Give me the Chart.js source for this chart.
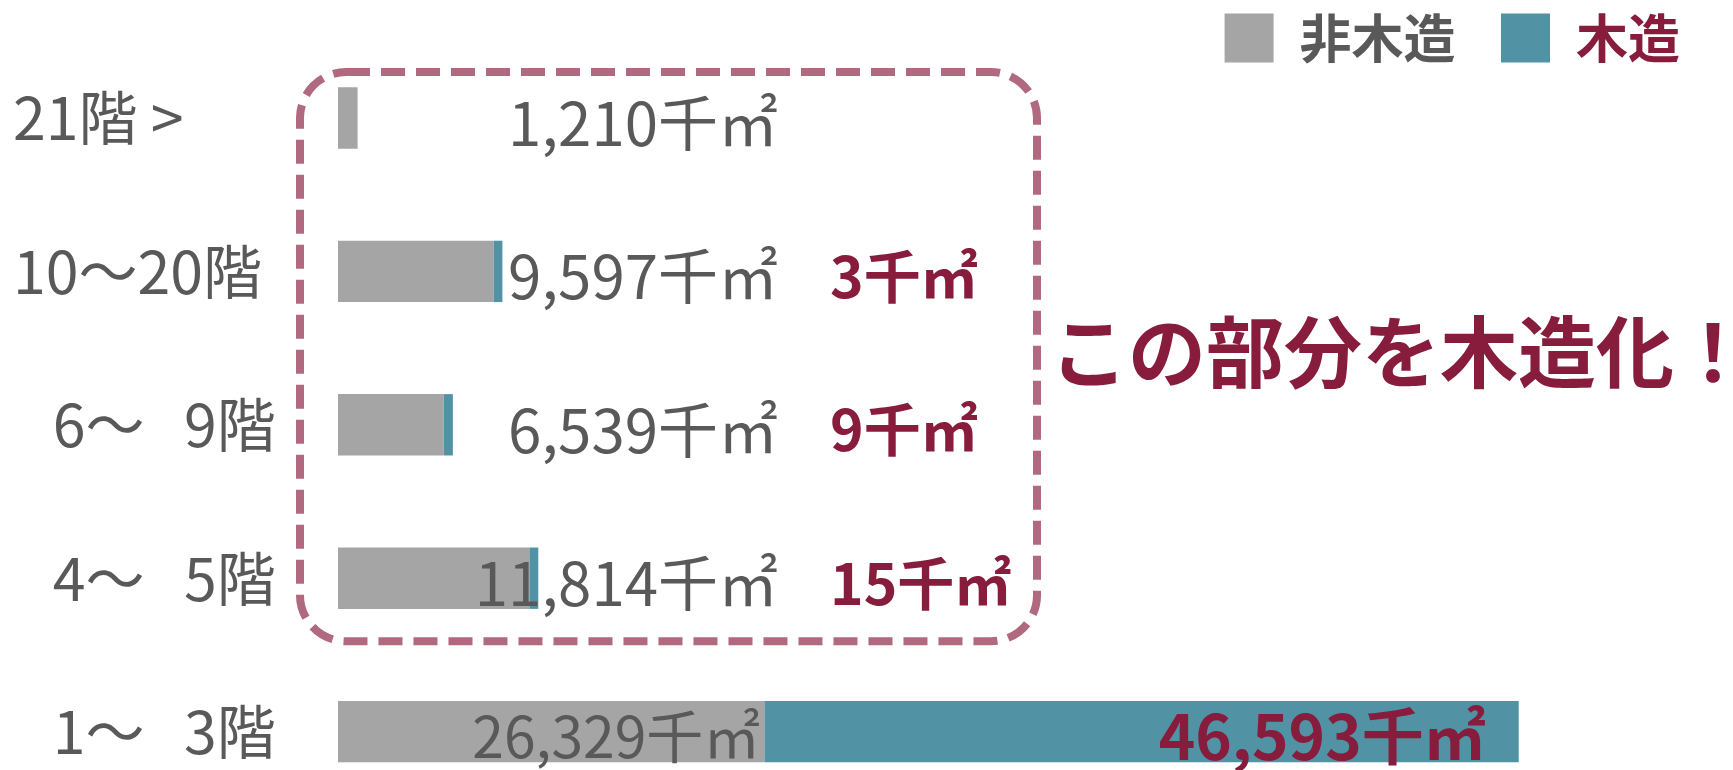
<!DOCTYPE html>
<html lang="ja">
<head>
<meta charset="utf-8">
<title>階数別 床面積</title>
<script src="https://cdn.jsdelivr.net/npm/chart.js@4.4.1/dist/chart.umd.min.js"></script>
<style>
  html, body { margin: 0; padding: 0; background: #fff; }
</style>
</head>
<body>
<canvas id="chart" width="1733" height="770"></canvas>
<script>
// floor bands, top to bottom
const floorLabels = ['21階 >', '10～20階', '   6～   9階', '   4～   5階', '   1～   3階'];
// floor area, thousand m2
const nonWoodArea = [1210, 9597, 6539, 11814, 26329];
const woodArea = [null, 3, 9, 15, 46593];
const seriesNames = ['非木造', '木造'];
const areaMax = 83500;

const FONT = "'Noto Sans CJK JP', 'Noto Sans', sans-serif";
const GREY = '#A5A5A5';
const TEAL = '#5193A5';
const TEXT_GREY = '#595959';
const MAROON = '#871C3D';
const BOX_PINK = '#B0697E';

const fmt = v => v.toLocaleString('en-US') + '千㎡';

// value labels, dashed frame and the callout text
const areaLabels = {
    id: 'areaLabels',
    afterDatasetsDraw(chart) {
        const { ctx, chartArea, scales: { y } } = chart;
        const greyBars = chart.getDatasetMeta(0).data;
        const woodBars = chart.getDatasetMeta(1).data;
        const last = nonWoodArea.length - 1;

        ctx.save();
        ctx.textBaseline = 'middle';
        nonWoodArea.forEach((v, i) => {
            const cy = greyBars[i].y + 5;
            ctx.fillStyle = TEXT_GREY;
            ctx.textAlign = 'right';
            if (i === last) {
                ctx.font = '400 57px ' + FONT;
                ctx.fillText(fmt(v), greyBars[i].x - 4, cy);
            } else {
                ctx.font = '400 60px ' + FONT;
                ctx.fillText(fmt(v), chartArea.left + 440, cy);
            }

            const w = woodArea[i];
            if (w == null) return;
            ctx.fillStyle = MAROON;
            if (i === last) {
                ctx.font = '700 62px ' + FONT;
                ctx.textAlign = 'right';
                ctx.fillText(fmt(w), woodBars[i].x - 33, cy);
            } else {
                ctx.font = '700 57px ' + FONT;
                ctx.textAlign = 'left';
                ctx.fillText(fmt(w), chartArea.left + 492, cy);
            }
        });

        // frame round the upper four bands
        const top = y.getPixelForValue(0) - 46;
        const bottom = y.getPixelForValue(3) + 63;
        const left = chartArea.left - 38;
        const right = chartArea.left + 699;
        ctx.beginPath();
        ctx.roundRect(left, top, right - left, bottom - top, 46);
        ctx.setLineDash([24, 11]);
        ctx.lineWidth = 8;
        ctx.strokeStyle = BOX_PINK;
        ctx.stroke();

        ctx.setLineDash([]);
        ctx.font = '700 78px ' + FONT;
        ctx.fillStyle = MAROON;
        ctx.textAlign = 'left';
        ctx.fillText('この部分を木造化！', chartArea.left + 712, (top + bottom) / 2 - 4);
        ctx.restore();
    }
};

const chart = new Chart(document.getElementById('chart'), {
    type: 'bar',
    data: {
        labels: floorLabels,
        datasets: [
            {
                label: seriesNames[0],
                data: nonWoodArea,
                backgroundColor: GREY,
                clip: false
            },
            {
                label: seriesNames[1],
                data: woodArea,
                backgroundColor: TEAL,
                minBarLength: 9,
                clip: false
            }
        ]
    },
    options: {
        indexAxis: 'y',
        responsive: false,
        animation: false,
        events: [],
        categoryPercentage: 1,
        barPercentage: 0.4,
        layout: { padding: { left: 13, right: 43, top: 2, bottom: 30 } },
        scales: {
            x: {
                position: 'top',
                stacked: true,
                min: 0,
                max: areaMax,
                grid: { display: false },
                border: { display: false },
                ticks: { display: false },
                afterFit: s => { s.height = 44; }
            },
            y: {
                stacked: true,
                offset: false,
                grid: { display: false },
                border: { display: false },
                ticks: {
                    crossAlign: 'far',
                    color: TEXT_GREY,
                    font: { family: FONT, size: 59, weight: '400' }
                },
                afterFit: s => { s.width = 325; }
            }
        },
        plugins: {
            tooltip: { enabled: false },
            legend: {
                position: 'top',
                align: 'end',
                labels: {
                    boxWidth: 49,
                    boxHeight: 49,
                    padding: 10,
                    font: { family: FONT, size: 52, weight: '700' },
                    generateLabels: c => c.data.datasets.map((ds, i) => ({
                        text: i === 0 ? ds.label + '   ' : ds.label,
                        fillStyle: ds.backgroundColor,
                        strokeStyle: ds.backgroundColor,
                        lineWidth: 0,
                        fontColor: i === 0 ? TEXT_GREY : MAROON,
                        datasetIndex: i
                    }))
                }
            }
        }
    },
    plugins: [areaLabels]
});
</script>
</body>
</html>
